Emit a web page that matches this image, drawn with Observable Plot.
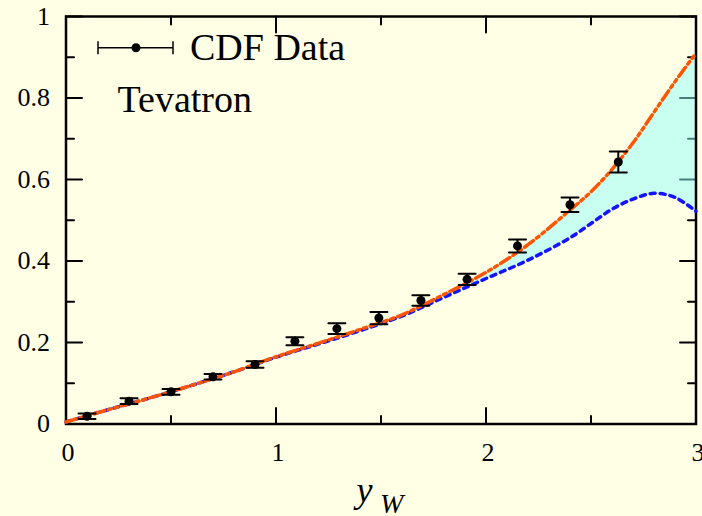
<!DOCTYPE html>
<html><head><meta charset="utf-8">
<script src="https://cdn.jsdelivr.net/npm/d3@7"></script>
<script src="https://cdn.jsdelivr.net/npm/@observablehq/plot@0.6"></script>
<style>
html,body{margin:0;padding:0;background:#ffffe6;}
#chart svg{display:block;}
#chart svg text{font-family:"Liberation Serif","DejaVu Serif",serif !important;}
</style></head><body><div id="chart"></div>
<script>
// CDF data points
const cdfX = [0.1, 0.3, 0.5, 0.7, 0.9, 1.09, 1.29, 1.49, 1.69, 1.91, 2.15, 2.40, 2.63];
const cdfVal = [0.019, 0.056, 0.079, 0.116, 0.146, 0.203, 0.234, 0.260, 0.303, 0.355, 0.437, 0.538, 0.643];
const cdfErr = [0.007, 0.007, 0.007, 0.007, 0.008, 0.010, 0.013, 0.015, 0.013, 0.014, 0.016, 0.018, 0.026];
// theory curves
const curveX = [0, 0.2, 0.4, 0.6, 0.8, 1.0, 1.2, 1.4, 1.6, 1.8, 2.0, 2.2, 2.4, 2.5, 2.6, 2.7, 2.8, 2.9, 3.0];
const upperCurve = [0.005, 0.035, 0.064, 0.095, 0.128, 0.165, 0.198, 0.232, 0.268, 0.318, 0.372, 0.44, 0.525, 0.57, 0.625, 0.69, 0.765, 0.84, 0.91];
const lowerCurve = [0.005, 0.035, 0.064, 0.095, 0.128, 0.164, 0.196, 0.229, 0.265, 0.311, 0.357, 0.402, 0.457, 0.492, 0.527, 0.552, 0.566, 0.556, 0.522];
// ticks
const xMajor = [0, 1, 2, 3];
const xMinor = [0.5, 1.5, 2.5];
const yMajor = [0, 0.2, 0.4, 0.6, 0.8, 1];
const yMinor = [0.1, 0.3, 0.5, 0.7, 0.9];
const legendLabel = "CDF Data";
const noteLabel = "Tevatron";

const points = cdfX.map((x, i) => ({x, y: cdfVal[i], lo: cdfVal[i] - cdfErr[i], hi: cdfVal[i] + cdfErr[i]}));
const curves = curveX.map((x, i) => ({x, up: upperCurve[i], low: lowerCurve[i]}));

const seg = {draw(ctx, l) { ctx.moveTo(0, 0); ctx.lineTo(0, -l); }};
const tickMark = (data, opts) => Plot.vector(data, {anchor: "start", shape: seg, stroke: "black", strokeWidth: 2, ...opts});

function overlay(index, scales, values, dims) {
  const g = d3.create("svg:g")
    .attr("text-anchor", "start")
    .attr("fill", "black");
  const L = dims.marginLeft, T = dims.marginTop;
  // legend symbol
  const lx1 = L + 32.5, lx2 = L + 107.5, ly = T + 31.7;
  g.append("line").attr("x1", lx1).attr("x2", lx2).attr("y1", ly).attr("y2", ly).attr("stroke", "black").attr("stroke-width", 1.5);
  for (const xx of [lx1, lx2]) g.append("line").attr("x1", xx).attr("x2", xx).attr("y1", ly - 6.5).attr("y2", ly + 6.5).attr("stroke", "black").attr("stroke-width", 1.5);
  g.append("circle").attr("cx", (lx1 + lx2) / 2 + 0.5).attr("cy", ly).attr("r", 4.5);
  g.append("text").attr("x", L + 124.5).attr("y", T + 44).attr("font-size", 38).text(legendLabel);
  g.append("text").attr("x", L + 52).attr("y", T + 95.7).attr("font-size", 38).text(noteLabel);
  // axis title y_W
  const cx = (L + dims.width - dims.marginRight) / 2;
  const by = dims.height - dims.marginBottom;
  g.append("text").attr("x", cx - 24).attr("y", by + 78.5).attr("font-size", 36).attr("font-style", "italic").text("y");
  g.append("text").attr("x", cx - 0.5).attr("y", by + 89).attr("font-size", 28).attr("font-style", "italic").text("W");
  return g.node();
}

const chart = Plot.plot({
  width: 702,
  height: 516,
  marginLeft: 65.5,
  marginRight: 6.5,
  marginTop: 16,
  marginBottom: 92.5,
  style: {background: "#ffffe6", fontFamily: "'Liberation Serif', 'DejaVu Serif', serif", color: "black"},
  x: {domain: [0, 3]},
  y: {domain: [0, 1]},
  marks: [
    // inward ticks on all four sides
    tickMark(xMajor, {x: d => d, y: 0, rotate: 0, length: 16}),
    tickMark(xMinor, {x: d => d, y: 0, rotate: 0, length: 8}),
    tickMark(xMajor, {x: d => d, y: 1, rotate: 180, length: 16}),
    tickMark(xMinor, {x: d => d, y: 1, rotate: 180, length: 8}),
    tickMark(yMajor, {x: 0, y: d => d, rotate: 90, length: 16}),
    tickMark(yMinor, {x: 0, y: d => d, rotate: 90, length: 8}),
    tickMark(yMajor, {x: 3, y: d => d, rotate: 270, length: 16}),
    tickMark(yMinor, {x: 3, y: d => d, rotate: 270, length: 8}),
    // band
    Plot.areaY(curves, {x: "x", y1: "low", y2: "up", fill: "#91fffa", fillOpacity: 0.5, curve: "catmull-rom"}),
    Plot.frame({stroke: "black", strokeWidth: 2.5}),
    // curves
    Plot.line(curves, {x: "x", y: "low", stroke: "#1414ff", strokeWidth: 3.5, strokeDasharray: "5,5", curve: "catmull-rom"}),
    Plot.line(curves, {x: "x", y: "up", stroke: "#ff5500", strokeWidth: 3.5, strokeDasharray: "11,4,3,4,3,4", curve: "catmull-rom"}),
    // data
    Plot.ruleX(points, {x: "x", y1: "lo", y2: "hi", stroke: "black", strokeWidth: 2}),
    Plot.vector(points, {x: "x", y: "lo", rotate: 90, length: 17, anchor: "middle", shape: seg, stroke: "black", strokeWidth: 2}),
    Plot.vector(points, {x: "x", y: "hi", rotate: 90, length: 17, anchor: "middle", shape: seg, stroke: "black", strokeWidth: 2}),
    Plot.dot(points, {x: "x", y: "y", r: 4.5, fill: "black"}),
    // axes labels
    Plot.axisX(xMajor, {tickSize: 0, tickPadding: 19, fontSize: 26, dx: 2, label: null, tickFormat: d => String(d)}),
    Plot.axisY(yMajor, {tickSize: 0, tickPadding: 16, fontSize: 26, label: null, tickFormat: d => String(d)}),
    overlay
  ]
});
document.getElementById("chart").appendChild(chart);
</script></body></html>
